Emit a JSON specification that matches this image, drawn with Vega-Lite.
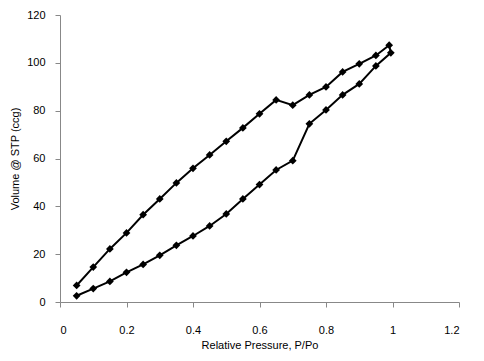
{
  "$schema": "https://vega.github.io/schema/vega-lite/v6.json",
  "autosize": "none",
  "width": 399,
  "height": 287,
  "padding": {"left": 60, "top": 15, "right": 25, "bottom": 59},
  "background": "white",
  "config": {
    "view": {"stroke": null},
    "font": "Liberation Sans",
    "axis": {"grid": false, "domainColor": "#888888", "tickColor": "#888888", "labelColor": "#000000", "titleColor": "#000000", "labelFont": "Liberation Sans", "titleFont": "Liberation Sans", "labelFontSize": 11, "titleFontSize": 11, "titleFontWeight": "normal", "tickSize": 5, "domainWidth": 1, "tickWidth": 1}
  },
  "data": {"values": [
    {"o": 1, "p": 0.05, "v": 2.6},
    {"o": 2, "p": 0.10, "v": 5.6},
    {"o": 3, "p": 0.15, "v": 8.6},
    {"o": 4, "p": 0.20, "v": 12.4},
    {"o": 5, "p": 0.25, "v": 15.7},
    {"o": 6, "p": 0.30, "v": 19.5},
    {"o": 7, "p": 0.35, "v": 23.7},
    {"o": 8, "p": 0.40, "v": 27.6},
    {"o": 9, "p": 0.45, "v": 31.8},
    {"o": 10, "p": 0.50, "v": 36.8},
    {"o": 11, "p": 0.55, "v": 43.1},
    {"o": 12, "p": 0.60, "v": 49.1},
    {"o": 13, "p": 0.65, "v": 55.2},
    {"o": 14, "p": 0.70, "v": 59.1},
    {"o": 15, "p": 0.75, "v": 74.5},
    {"o": 16, "p": 0.80, "v": 80.3},
    {"o": 17, "p": 0.85, "v": 86.6},
    {"o": 18, "p": 0.90, "v": 91.2},
    {"o": 19, "p": 0.95, "v": 98.7},
    {"o": 20, "p": 0.995, "v": 104.2},
    {"o": 21, "p": 0.99, "v": 107.4},
    {"o": 22, "p": 0.95, "v": 103.1},
    {"o": 23, "p": 0.90, "v": 99.6},
    {"o": 24, "p": 0.85, "v": 96.2},
    {"o": 25, "p": 0.80, "v": 89.9},
    {"o": 26, "p": 0.75, "v": 86.6},
    {"o": 27, "p": 0.70, "v": 82.3},
    {"o": 28, "p": 0.65, "v": 84.5},
    {"o": 29, "p": 0.60, "v": 78.7},
    {"o": 30, "p": 0.55, "v": 72.8},
    {"o": 31, "p": 0.50, "v": 67.2},
    {"o": 32, "p": 0.45, "v": 61.5},
    {"o": 33, "p": 0.40, "v": 55.9},
    {"o": 34, "p": 0.35, "v": 49.8},
    {"o": 35, "p": 0.30, "v": 43.1},
    {"o": 36, "p": 0.25, "v": 36.5},
    {"o": 37, "p": 0.20, "v": 28.9},
    {"o": 38, "p": 0.15, "v": 22.2},
    {"o": 39, "p": 0.10, "v": 14.6},
    {"o": 40, "p": 0.05, "v": 6.9}
  ]},
  "encoding": {
    "x": {"field": "p", "type": "quantitative", "scale": {"domain": [0, 1.2], "nice": false, "zero": true}, "axis": {"values": [0, 0.2, 0.4, 0.6, 0.8, 1, 1.2], "format": "~g", "title": "Relative Pressure, P/Po", "labelPadding": 17, "titlePadding": 4}},
    "y": {"field": "v", "type": "quantitative", "scale": {"domain": [0, 120], "nice": false}, "axis": {"values": [0, 20, 40, 60, 80, 100, 120], "title": "Volume @ STP (ccg)", "labelPadding": 10, "titlePadding": 6}}
  },
  "layer": [
    {"mark": {"type": "line", "color": "#000000", "strokeWidth": 2}, "encoding": {"order": {"field": "o", "type": "quantitative"}}},
    {"mark": {"type": "point", "shape": "diamond", "filled": true, "color": "#000000", "size": 60, "opacity": 1}}
  ]
}
